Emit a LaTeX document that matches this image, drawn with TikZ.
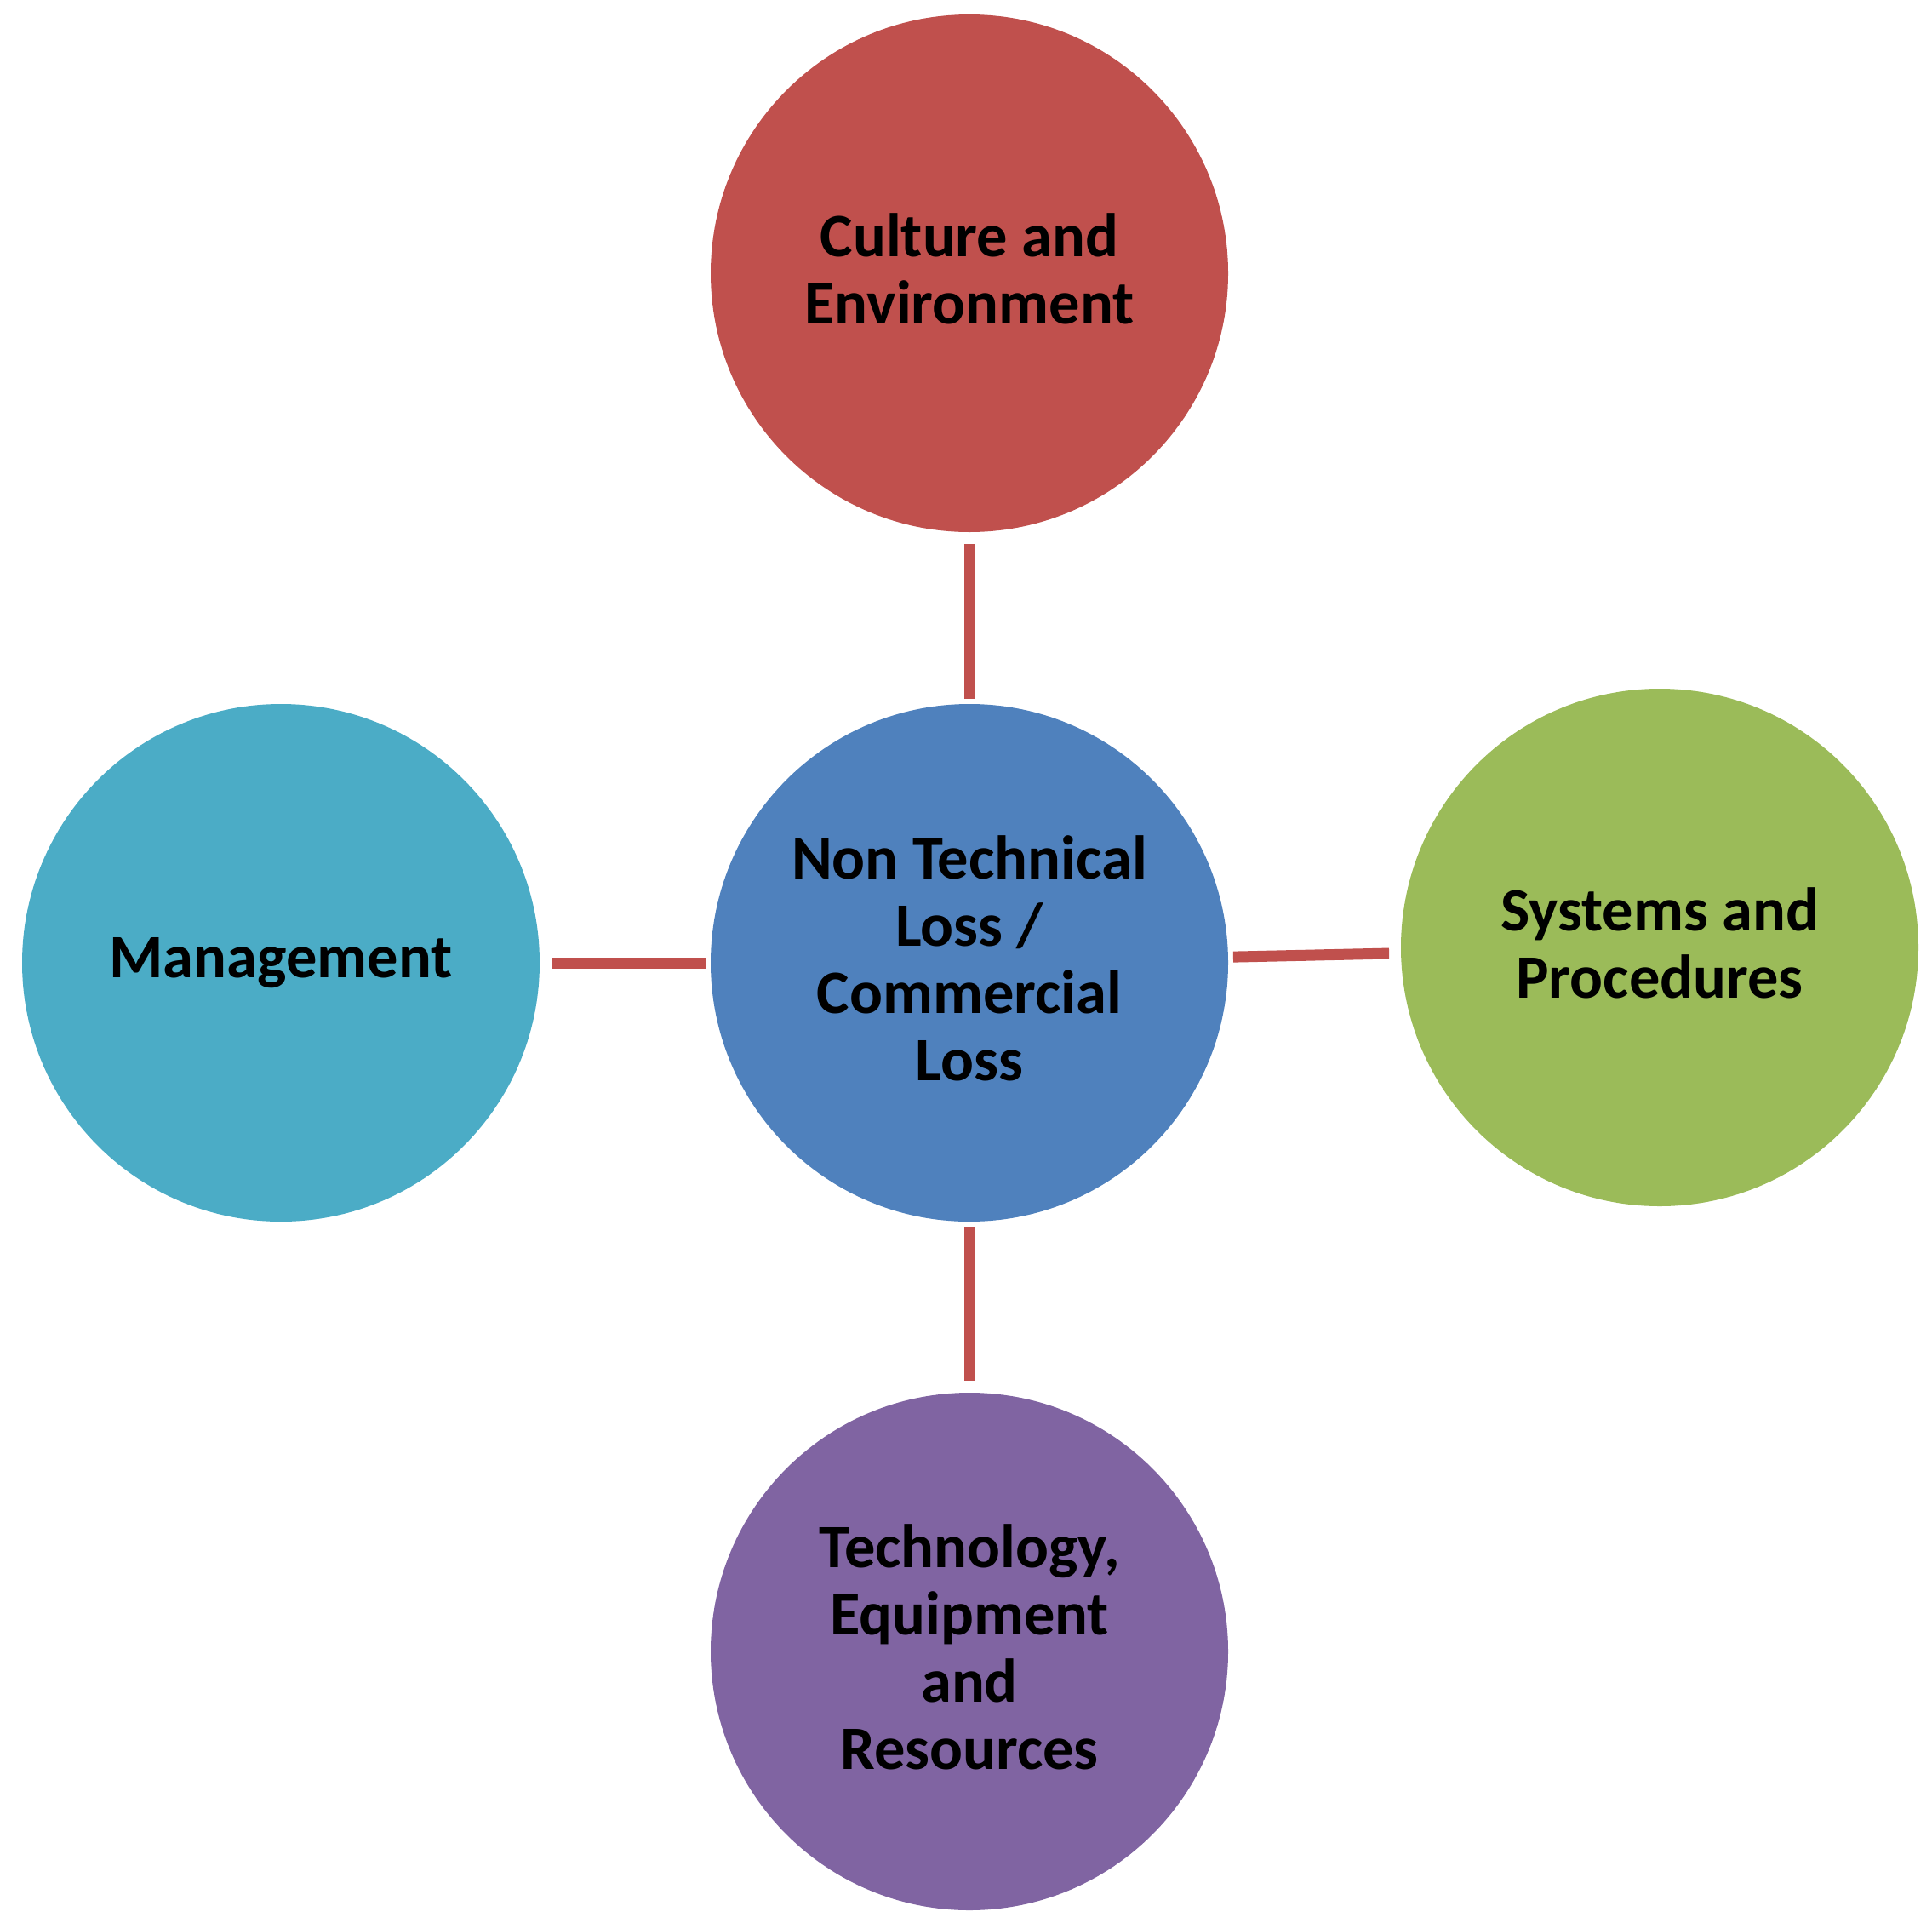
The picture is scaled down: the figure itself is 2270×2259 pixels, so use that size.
\documentclass[tikz,border=0pt]{standalone}
\usepackage{fontspec}
\setmainfont{Carlito}
\definecolor{cred}{HTML}{C0504D}
\definecolor{cblue}{HTML}{4F81BD}
\definecolor{cteal}{HTML}{4BACC6}
\definecolor{cgreen}{HTML}{9BBB59}
\definecolor{cpurple}{HTML}{8064A2}
\newcommand{\ls}{\rule[-11pt]{0pt}{58pt}}
\begin{document}
\begin{tikzpicture}[x=1pt,y=-1pt,
  bubble/.style={circle,minimum size=608pt,inner sep=0pt,outer sep=0pt,align=center,
    font=\bfseries\fontsize{72.5}{79}\selectfont,text=black},
  conn/.style={draw=cred,line width=13pt,shorten <=6pt,shorten >=14pt}]
\useasboundingbox (0,0) rectangle (2270,2259);
\node[bubble,fill=cblue] (c) at (1139,1131) {\ls Non Technical\\\ls Loss /\\\ls Commercial\\\ls Loss};
\node[bubble,fill=cred] (t) at (1139,321) {\ls Culture and\\\ls Environment};
\node[bubble,fill=cteal] (l) at (330,1131) {\ls Management};
\node[bubble,fill=cgreen] (r) at (1950,1113) {\ls Systems and\\\ls Procedures};
\node[bubble,fill=cpurple] (b) at (1139,1940) {\ls Technology,\\\ls Equipment\\\ls and\\\ls Resources};
\draw[conn] (c) -- (t);
\draw[conn] (c) -- (l);
\draw[conn] (c) -- (r);
\draw[conn] (c) -- (b);
\end{tikzpicture}
\end{document}
